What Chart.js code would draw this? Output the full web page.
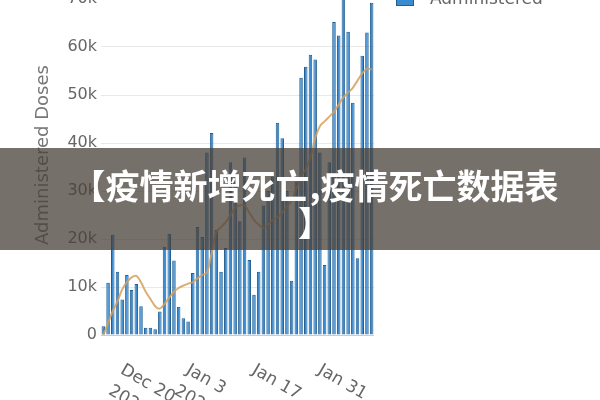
<!DOCTYPE html>
<html><head><meta charset="utf-8">
<script src="https://cdn.jsdelivr.net/npm/chart.js@4/dist/chart.umd.min.js"></script>
<style>
html,body{margin:0;padding:0;background:#fff;}
#wrap{position:relative;width:600px;height:400px;overflow:hidden;background:#fff;}
#c{position:absolute;left:0;top:-45px;}
#legend{position:absolute;left:396px;top:-12px;font:17px "DejaVu Sans",sans-serif;color:#666;white-space:nowrap;}
#legend .sw{display:inline-block;width:16px;height:16px;background:#3b8bd0;border:1px solid #215e90;vertical-align:-2px;margin-right:16px;}
#banner{position:absolute;left:0;top:148px;width:600px;height:102px;background:rgba(72,64,58,0.75);}
#btext{position:absolute;left:15px;top:166px;width:600px;text-align:center;color:#fff;font:bold 34px/37px "Noto Sans CJK SC",sans-serif;white-space:nowrap;}
</style></head><body>
<div id="wrap">
<canvas id="c" width="600" height="445"></canvas>
<div id="legend"><span class="sw"></span>Administered</div>
<div id="banner"></div>
<div id="btext">【疫情新增死亡,疫情死亡数据表<br>】</div>
</div>
<script>
const dates = ['2020-12-14','2020-12-15','2020-12-16','2020-12-17','2020-12-18','2020-12-19','2020-12-20','2020-12-21','2020-12-22','2020-12-23','2020-12-24','2020-12-25','2020-12-26','2020-12-27','2020-12-28','2020-12-29','2020-12-30','2020-12-31','2021-01-01','2021-01-02','2021-01-03','2021-01-04','2021-01-05','2021-01-06','2021-01-07','2021-01-08','2021-01-09','2021-01-10','2021-01-11','2021-01-12','2021-01-13','2021-01-14','2021-01-15','2021-01-16','2021-01-17','2021-01-18','2021-01-19','2021-01-20','2021-01-21','2021-01-22','2021-01-23','2021-01-24','2021-01-25','2021-01-26','2021-01-27','2021-01-28','2021-01-29','2021-01-30','2021-01-31','2021-02-01','2021-02-02','2021-02-03','2021-02-04','2021-02-05','2021-02-06','2021-02-07','2021-02-08','2021-02-09'];
const administered = [1800,10900,20900,13200,7400,12500,9400,10600,6000,1500,1500,1200,4900,18400,21100,15500,5900,3500,2800,12900,22500,20400,38000,42100,21900,13200,18100,36000,32000,23700,37000,15600,8400,13200,27000,30000,33000,44200,41000,30000,11300,32000,53600,55900,58400,57400,38000,14600,36000,65200,62400,71500,63200,48400,16000,58200,63000,69200];
const movingAvg = [0,2500,5000,7000,9500,11000,12000,12300,11000,9000,7500,6000,5500,6500,7800,9000,9800,10300,10700,11000,11800,12500,13000,17000,21500,22500,23500,25000,26500,27000,27000,25500,24000,23000,22300,23000,24000,24500,25500,26800,28000,30500,33000,34500,37000,41000,43500,44500,45500,46500,48000,49500,50500,51500,53000,54500,55500,55300];
const tickDates = ['2020-12-20','2021-01-03','2021-01-17','2021-01-31'];
const tickLabels = [['Dec 20','2020'],['Jan 3','2021'],['Jan 17'],['Jan 31']];
const yTicks = [0,10000,20000,30000,40000,50000,60000,70000];

const xLabelPlugin = {
  id:'xLabels',
  afterDraw(chart){
    const ctx = chart.ctx, xs = chart.scales.x, area = chart.chartArea;
    ctx.save();
    ctx.font = '17px "DejaVu Sans", sans-serif';
    ctx.fillStyle = '#666';
    ctx.textAlign = 'left';
    ctx.textBaseline = 'middle';
    tickDates.forEach((d,k)=>{
      const px = xs.getPixelForValue(dates.indexOf(d));
      ctx.save();
      ctx.translate(px-10, area.bottom+34);
      ctx.rotate(Math.PI/6);
      tickLabels[k].forEach((t,j)=>ctx.fillText(t,0,j*24));
      ctx.restore();
    });
    ctx.restore();
  }
};

new Chart(document.getElementById('c'), {
  data:{
    labels: dates,
    datasets:[
      {type:'line', label:'7-day average', data: movingAvg, borderColor:'rgba(214,160,92,0.85)', borderWidth:2, pointRadius:0, tension:0.3, order:0},
      {type:'bar', label:'Administered', data: administered, backgroundColor:'#3b8bd0', borderColor:'#215e90', borderWidth:1, categoryPercentage:1, barPercentage:0.75, order:1, clip:false}
    ]
  },
  options:{
    responsive:false, animation:false, devicePixelRatio:1,
    layout:{padding:{left:29,right:226,top:20,bottom:0}},
    plugins:{legend:{display:false}, tooltip:{enabled:false}},
    scales:{
      x:{type:'category', grid:{display:false}, border:{display:false}, ticks:{display:false},
         afterFit(s){ s.height = 65; }},
      y:{min:0, max:75000,
         afterBuildTicks(s){ s.ticks = yTicks.map(v=>({value:v})); },
         afterFit(s){ s.width = 72; },
         border:{display:false},
         grid:{drawTicks:false, color:(c)=> c.tick && c.tick.value===0 ? '#cccccc' : '#e8e8e8', lineWidth:1},
         ticks:{padding:4, color:'#666', font:{family:'DejaVu Sans', size:16},
                callback:(v)=> v===0 ? '0' : (v/1000)+'k'},
         title:{display:true, text:'Administered Doses', color:'#777', font:{family:'DejaVu Sans', size:18}, padding:{top:4,bottom:4}}
      }
    }
  },
  plugins:[xLabelPlugin]
});
</script>
</body></html>
